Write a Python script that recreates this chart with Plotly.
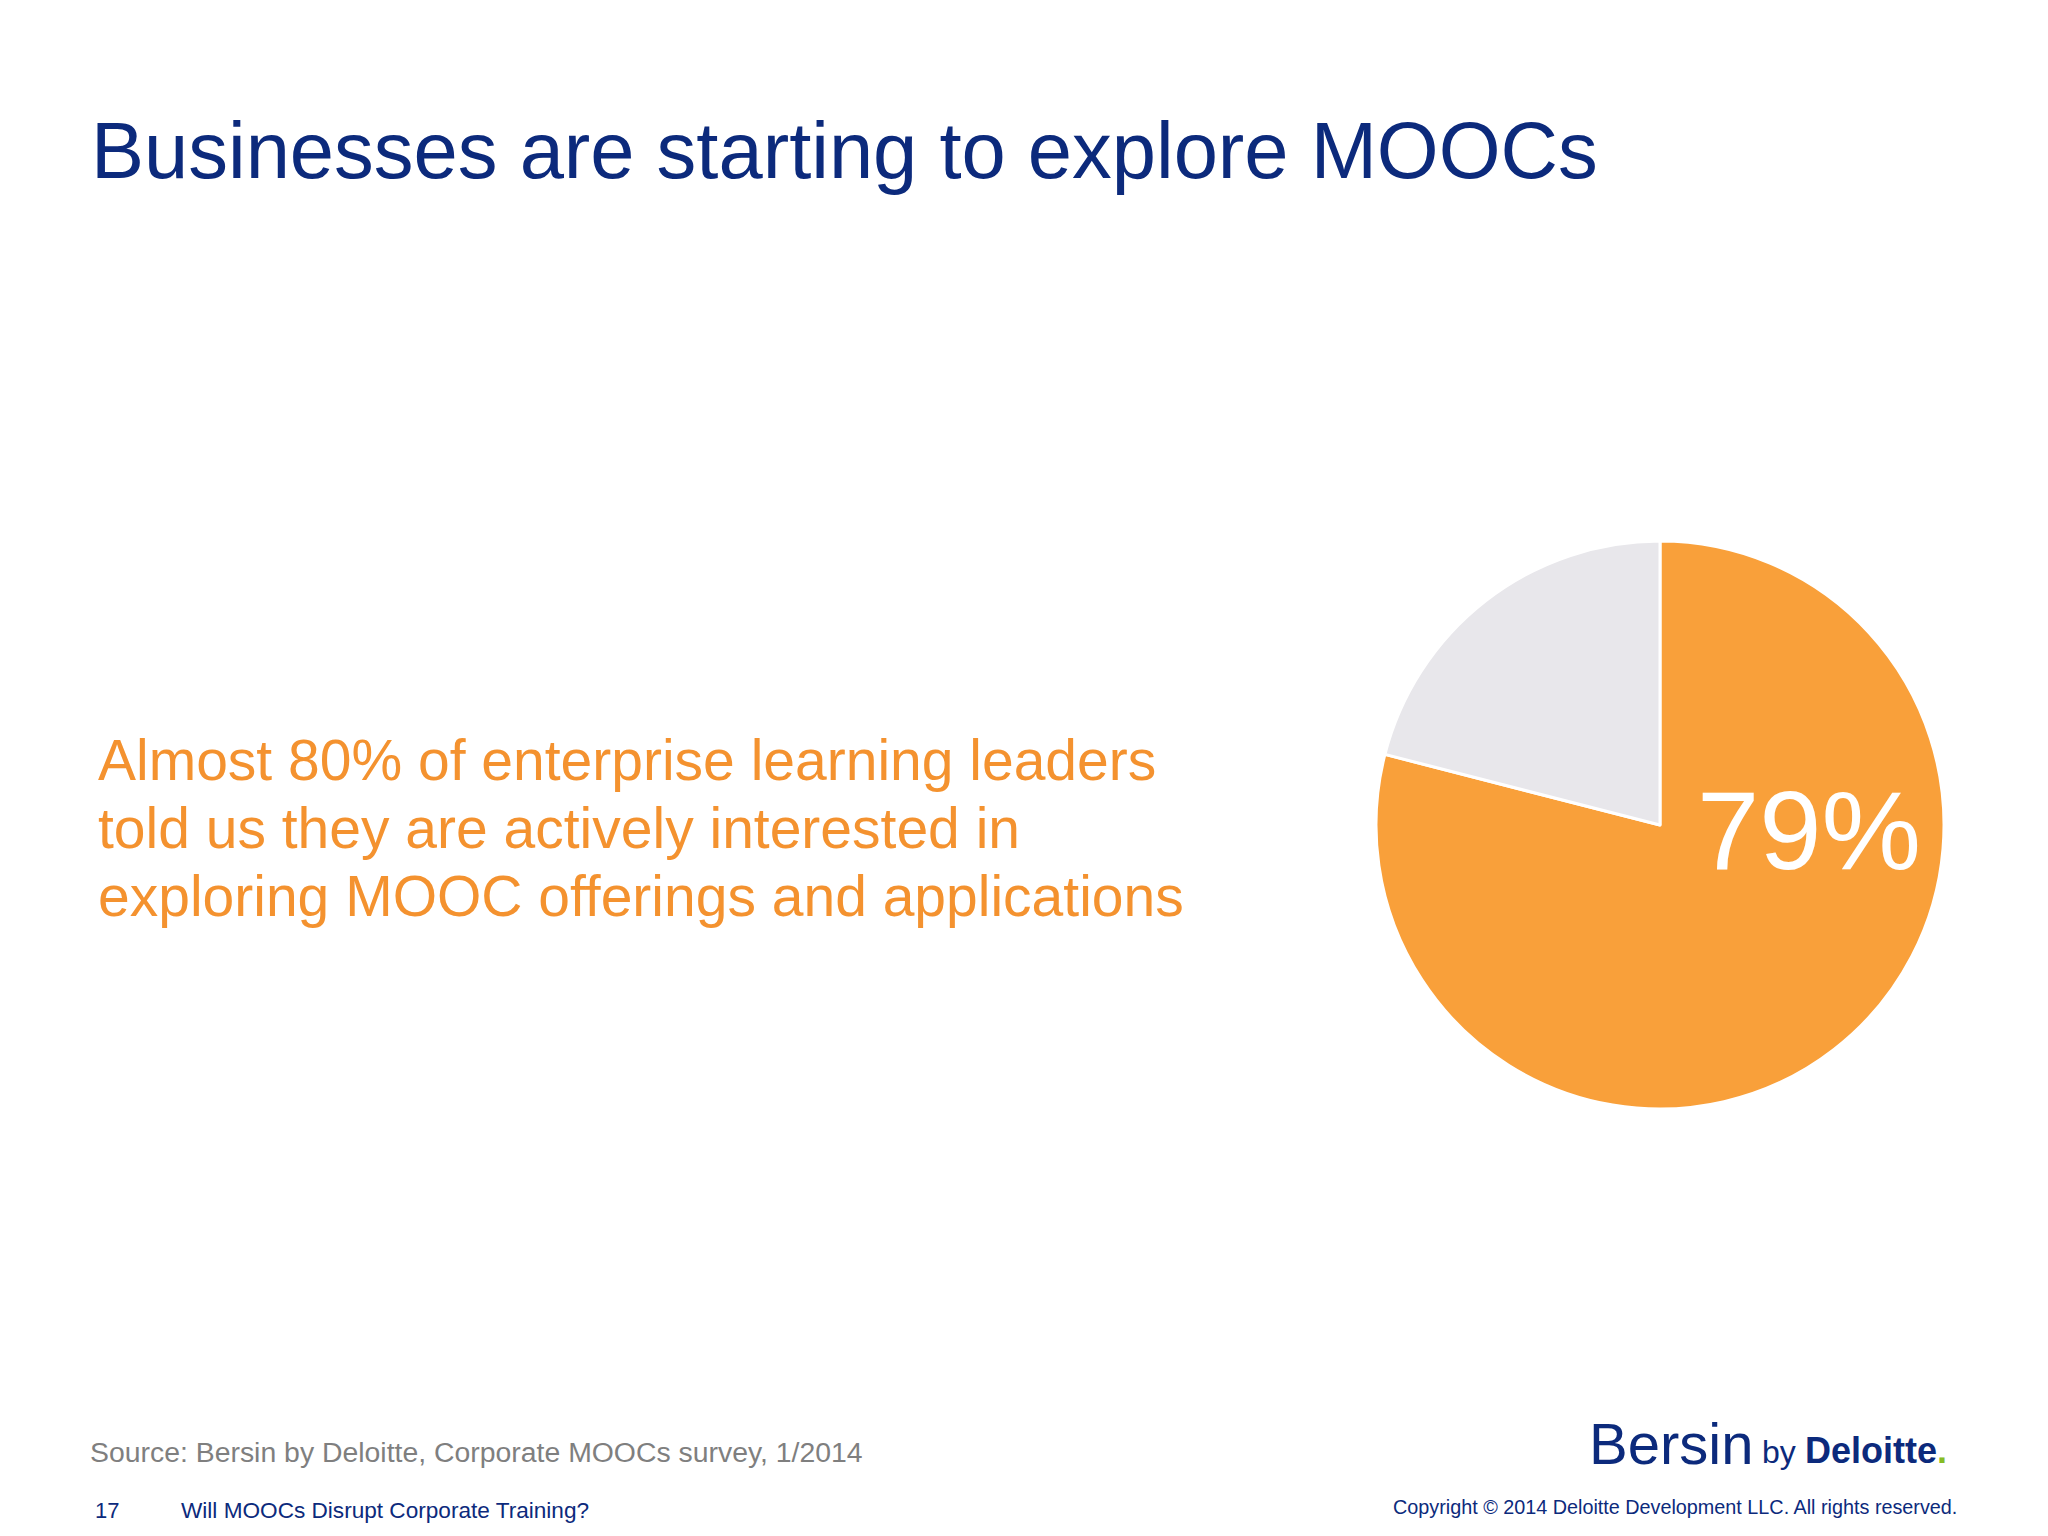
import plotly.graph_objects as go

# ---- data ----
labels = ["Interested in MOOCs", "Not interested"]
values = [79, 21]
slice_colors = ["#F9A03A", "#E8E7EB"]

title_text = "Businesses are starting to explore MOOCs"
body_lines = [
    "Almost 80% of enterprise learning leaders",
    "told us they are actively interested in",
    "exploring MOOC offerings and applications",
]
source_text = "Source: Bersin by Deloitte, Corporate MOOCs survey, 1/2014"
page_number = "17"
footer_title = "Will MOOCs Disrupt Corporate Training?"
copyright_text = "Copyright © 2014 Deloitte Development LLC. All rights reserved."

W, H = 2048, 1536
NAVY = "#0C2A7C"
ORANGE = "#F4922F"
FONT = "Liberation Sans, Arial, sans-serif"


def px(x):
    return x / W


def py(y):
    return 1 - y / H


fig = go.Figure()

# pie centre (1660, 825), radius 284
cx, cy, r = 1660, 825, 284
fig.add_trace(go.Pie(
    labels=labels,
    values=values,
    sort=False,
    direction="clockwise",
    rotation=0,
    marker=dict(colors=slice_colors, line=dict(color="white", width=3)),
    textinfo="none",
    hoverinfo="label+percent",
    showlegend=False,
    domain=dict(x=[px(cx - r), px(cx + r)], y=[py(cy + r), py(cy - r)]),
))

ann = []


def add_text(text, x, y, size, color, xanchor="left", family=FONT, yanchor="middle"):
    ann.append(dict(
        text=text, x=px(x), y=py(y), xref="paper", yref="paper",
        xanchor=xanchor, yanchor=yanchor, showarrow=False,
        font=dict(family=family, size=size, color=color),
    ))


# title
add_text(title_text, 89, 150, 79.5, NAVY)
# body
for i, line in enumerate(body_lines):
    add_text(line, 96, 760 + i * 68, 57, ORANGE)
# pie label
add_text(f"{values[0]}%", 1809, 830, 112, "white", xanchor="center")
# source
add_text(source_text, 88, 1452, 28.4, "#7F7F7F")
# footer
add_text(page_number, 93, 1510, 22, NAVY)
add_text(footer_title, 179, 1510, 22.6, NAVY)
add_text(copyright_text, 1959, 1507, 19.8, NAVY, xanchor="right")
# logo
add_text("Bersin", 1587, 1443, 58, NAVY)
add_text("by", 1760, 1452, 32, NAVY)
add_text("<b>Deloitte</b><span style='color:#86BC25'><b>.</b></span>", 1803, 1450, 36, NAVY)

fig.update_layout(
    width=W, height=H,
    margin=dict(l=0, r=0, t=0, b=0),
    paper_bgcolor="white",
    plot_bgcolor="white",
    annotations=ann,
)

fig.write_html("out.html", config={"displayModeBar": False},
               post_script="document.body.style.margin='0';")
